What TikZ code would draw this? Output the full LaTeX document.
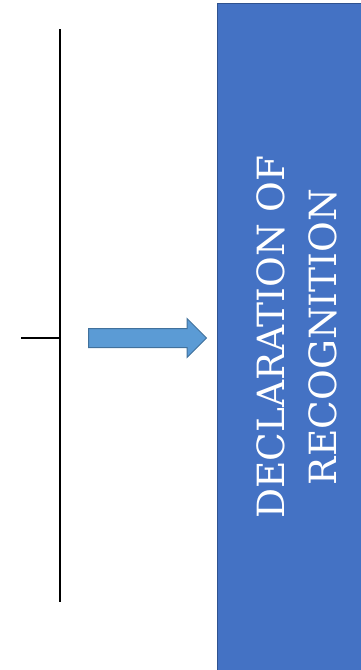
\documentclass[tikz,border=0pt]{standalone}
\usepackage{fontspec}
\setmainfont{DejaVu Serif}
\usetikzlibrary{positioning}
\usetikzlibrary{shapes.arrows}
\definecolor{boxblue}{HTML}{4472C4}
\definecolor{boxedge}{HTML}{2F528F}
\definecolor{arrowblue}{HTML}{5B9BD5}
\definecolor{arrowedge}{HTML}{41719C}

\begin{document}
\begin{tikzpicture}[x=1pt,y=1pt,
  titlebox/.style={draw=boxedge, line width=1.2pt, fill=boxblue, minimum width=160pt, minimum height=690pt, inner sep=0pt},
  titletext/.style={text=white, rotate=90, align=center, font=\fontsize{37.5}{52}\selectfont},
  bigarrow/.style={single arrow, draw=arrowedge, line width=1pt, fill=arrowblue, minimum height=118pt, inner xsep=0pt, inner ysep=9pt, single arrow head extend=10pt, shape border rotate=0},
  rule/.style={line width=1.4pt}]

\useasboundingbox (0,0) rectangle (360,-670);

\node[titlebox, anchor=north west] (box) at (217,-3) {};
\node[titletext] (title) at (297,-337) {DECLARATION OF\\RECOGNITION};

\node[bigarrow, anchor=tail] (arr) at (88,-338) {};

\coordinate (top) at (60,-29);
\coordinate (bot) at (60,-602);
\coordinate (mid) at (60,-338);
\coordinate (tick) at (21,-338);
\draw[rule] (top) -- (bot);
\draw[rule] (tick) -- (mid);

\end{tikzpicture}
\end{document}
